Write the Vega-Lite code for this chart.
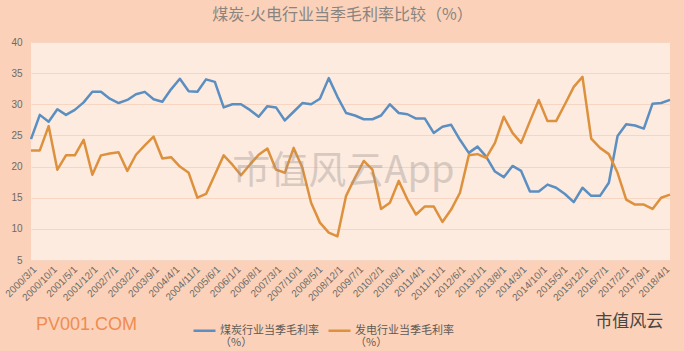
{
  "$schema": "https://vega.github.io/schema/vega-lite/v6.json",
  "autosize": "none",
  "width": 639,
  "height": 218,
  "padding": {"left": 31, "top": 42, "right": 14, "bottom": 91},
  "background": "#FBD2B9",
  "view": {"fill": "#FDEBE0", "stroke": null},
  "title": {"text": "煤炭-火电行业当季毛利率比较（%）", "font": "Noto Sans CJK SC", "fontSize": 16, "fontWeight": "normal", "color": "#8A8480", "anchor": "middle", "offset": 14, "dx": -8},
  "datasets": {
    "series": [
      {"date": "2000/3/1", "煤炭行业当季毛利率": 24.4, "发电行业当季毛利率": 22.6},
      {"date": "2000/6/1", "煤炭行业当季毛利率": 28.3, "发电行业当季毛利率": 22.6},
      {"date": "2000/9/1", "煤炭行业当季毛利率": 27.2, "发电行业当季毛利率": 26.5},
      {"date": "2000/12/1", "煤炭行业当季毛利率": 29.2, "发电行业当季毛利率": 19.5},
      {"date": "2001/3/1", "煤炭行业当季毛利率": 28.3, "发电行业当季毛利率": 21.8},
      {"date": "2001/6/1", "煤炭行业当季毛利率": 29.1, "发电行业当季毛利率": 21.8},
      {"date": "2001/9/1", "煤炭行业当季毛利率": 30.3, "发电行业当季毛利率": 24.3},
      {"date": "2001/12/1", "煤炭行业当季毛利率": 32.0, "发电行业当季毛利率": 18.7},
      {"date": "2002/3/1", "煤炭行业当季毛利率": 32.0, "发电行业当季毛利率": 21.8},
      {"date": "2002/6/1", "煤炭行业当季毛利率": 30.9, "发电行业当季毛利率": 22.1},
      {"date": "2002/9/1", "煤炭行业当季毛利率": 30.2, "发电行业当季毛利率": 22.3},
      {"date": "2002/12/1", "煤炭行业当季毛利率": 30.7, "发电行业当季毛利率": 19.3},
      {"date": "2003/3/1", "煤炭行业当季毛利率": 31.6, "发电行业当季毛利率": 21.9},
      {"date": "2003/6/1", "煤炭行业当季毛利率": 32.0, "发电行业当季毛利率": 23.4},
      {"date": "2003/9/1", "煤炭行业当季毛利率": 30.8, "发电行业当季毛利率": 24.8},
      {"date": "2003/12/1", "煤炭行业当季毛利率": 30.4, "发电行业当季毛利率": 21.3},
      {"date": "2004/3/1", "煤炭行业当季毛利率": 32.4, "发电行业当季毛利率": 21.5},
      {"date": "2004/6/1", "煤炭行业当季毛利率": 34.1, "发电行业当季毛利率": 20.0},
      {"date": "2004/9/1", "煤炭行业当季毛利率": 32.1, "发电行业当季毛利率": 19.0},
      {"date": "2004/12/1", "煤炭行业当季毛利率": 32.0, "发电行业当季毛利率": 15.0},
      {"date": "2005/3/1", "煤炭行业当季毛利率": 34.0, "发电行业当季毛利率": 15.6},
      {"date": "2005/6/1", "煤炭行业当季毛利率": 33.6, "发电行业当季毛利率": 18.7},
      {"date": "2005/9/1", "煤炭行业当季毛利率": 29.5, "发电行业当季毛利率": 21.8},
      {"date": "2005/12/1", "煤炭行业当季毛利率": 30.0, "发电行业当季毛利率": 20.3},
      {"date": "2006/3/1", "煤炭行业当季毛利率": 30.0, "发电行业当季毛利率": 18.6},
      {"date": "2006/6/1", "煤炭行业当季毛利率": 29.1, "发电行业当季毛利率": 20.3},
      {"date": "2006/9/1", "煤炭行业当季毛利率": 28.0, "发电行业当季毛利率": 21.9},
      {"date": "2006/12/1", "煤炭行业当季毛利率": 29.7, "发电行业当季毛利率": 22.9},
      {"date": "2007/3/1", "煤炭行业当季毛利率": 29.5, "发电行业当季毛利率": 19.5},
      {"date": "2007/6/1", "煤炭行业当季毛利率": 27.4, "发电行业当季毛利率": 19.0},
      {"date": "2007/9/1", "煤炭行业当季毛利率": 28.8, "发电行业当季毛利率": 23.0},
      {"date": "2007/12/1", "煤炭行业当季毛利率": 30.2, "发电行业当季毛利率": 19.8},
      {"date": "2008/3/1", "煤炭行业当季毛利率": 30.0, "发电行业当季毛利率": 14.2},
      {"date": "2008/6/1", "煤炭行业当季毛利率": 30.9, "发电行业当季毛利率": 11.0},
      {"date": "2008/9/1", "煤炭行业当季毛利率": 34.2, "发电行业当季毛利率": 9.4},
      {"date": "2008/12/1", "煤炭行业当季毛利率": 31.2, "发电行业当季毛利率": 8.8},
      {"date": "2009/3/1", "煤炭行业当季毛利率": 28.6, "发电行业当季毛利率": 15.3},
      {"date": "2009/6/1", "煤炭行业当季毛利率": 28.2, "发电行业当季毛利率": 18.2},
      {"date": "2009/9/1", "煤炭行业当季毛利率": 27.6, "发电行业当季毛利率": 20.9},
      {"date": "2009/12/1", "煤炭行业当季毛利率": 27.6, "发电行业当季毛利率": 19.5},
      {"date": "2010/3/1", "煤炭行业当季毛利率": 28.2, "发电行业当季毛利率": 13.2},
      {"date": "2010/6/1", "煤炭行业当季毛利率": 30.0, "发电行业当季毛利率": 14.2},
      {"date": "2010/9/1", "煤炭行业当季毛利率": 28.6, "发电行业当季毛利率": 17.7},
      {"date": "2010/12/1", "煤炭行业当季毛利率": 28.4, "发电行业当季毛利率": 14.7},
      {"date": "2011/3/1", "煤炭行业当季毛利率": 27.7, "发电行业当季毛利率": 12.3},
      {"date": "2011/6/1", "煤炭行业当季毛利率": 27.7, "发电行业当季毛利率": 13.6},
      {"date": "2011/9/1", "煤炭行业当季毛利率": 25.4, "发电行业当季毛利率": 13.6},
      {"date": "2011/12/1", "煤炭行业当季毛利率": 26.4, "发电行业当季毛利率": 11.1},
      {"date": "2012/3/1", "煤炭行业当季毛利率": 26.7, "发电行业当季毛利率": 13.1},
      {"date": "2012/6/1", "煤炭行业当季毛利率": 24.3, "发电行业当季毛利率": 15.8},
      {"date": "2012/9/1", "煤炭行业当季毛利率": 22.2, "发电行业当季毛利率": 21.8},
      {"date": "2012/12/1", "煤炭行业当季毛利率": 23.2, "发电行业当季毛利率": 22.0},
      {"date": "2013/3/1", "煤炭行业当季毛利率": 21.6, "发电行业当季毛利率": 21.4},
      {"date": "2013/6/1", "煤炭行业当季毛利率": 19.2, "发电行业当季毛利率": 23.8},
      {"date": "2013/9/1", "煤炭行业当季毛利率": 18.3, "发电行业当季毛利率": 28.0},
      {"date": "2013/12/1", "煤炭行业当季毛利率": 20.1, "发电行业当季毛利率": 25.4},
      {"date": "2014/3/1", "煤炭行业当季毛利率": 19.3, "发电行业当季毛利率": 23.8},
      {"date": "2014/6/1", "煤炭行业当季毛利率": 16.0, "发电行业当季毛利率": 27.3},
      {"date": "2014/9/1", "煤炭行业当季毛利率": 16.0, "发电行业当季毛利率": 30.7},
      {"date": "2014/12/1", "煤炭行业当季毛利率": 17.1, "发电行业当季毛利率": 27.3},
      {"date": "2015/3/1", "煤炭行业当季毛利率": 16.6, "发电行业当季毛利率": 27.3},
      {"date": "2015/6/1", "煤炭行业当季毛利率": 15.6, "发电行业当季毛利率": 30.0},
      {"date": "2015/9/1", "煤炭行业当季毛利率": 14.3, "发电行业当季毛利率": 32.8},
      {"date": "2015/12/1", "煤炭行业当季毛利率": 16.6, "发电行业当季毛利率": 34.4},
      {"date": "2016/3/1", "煤炭行业当季毛利率": 15.3, "发电行业当季毛利率": 24.5},
      {"date": "2016/6/1", "煤炭行业当季毛利率": 15.3, "发电行业当季毛利率": 23.0},
      {"date": "2016/9/1", "煤炭行业当季毛利率": 17.4, "发电行业当季毛利率": 22.0},
      {"date": "2016/12/1", "煤炭行业当季毛利率": 24.9, "发电行业当季毛利率": 19.0},
      {"date": "2017/3/1", "煤炭行业当季毛利率": 26.8, "发电行业当季毛利率": 14.7},
      {"date": "2017/6/1", "煤炭行业当季毛利率": 26.6, "发电行业当季毛利率": 13.9},
      {"date": "2017/9/1", "煤炭行业当季毛利率": 26.1, "发电行业当季毛利率": 13.9},
      {"date": "2017/12/1", "煤炭行业当季毛利率": 30.1, "发电行业当季毛利率": 13.2},
      {"date": "2018/3/1", "煤炭行业当季毛利率": 30.2, "发电行业当季毛利率": 15.0},
      {"date": "2018/6/1", "煤炭行业当季毛利率": 30.7, "发电行业当季毛利率": 15.5}
    ]
  },
  "encoding": {
    "x": {
      "field": "date",
      "type": "temporal",
      "scale": {"domain": [{"year": 2000, "month": 3, "date": 1}, {"year": 2018, "month": 6, "date": 1}]},
      "axis": {
        "title": null,
        "format": "%Y/%-m/%-d",
        "values": [
          {"year": 2000, "month": 3, "date": 1}, {"year": 2000, "month": 10, "date": 1},
          {"year": 2001, "month": 5, "date": 1}, {"year": 2001, "month": 12, "date": 1},
          {"year": 2002, "month": 7, "date": 1}, {"year": 2003, "month": 2, "date": 1},
          {"year": 2003, "month": 9, "date": 1}, {"year": 2004, "month": 4, "date": 1},
          {"year": 2004, "month": 11, "date": 1}, {"year": 2005, "month": 6, "date": 1},
          {"year": 2006, "month": 1, "date": 1}, {"year": 2006, "month": 8, "date": 1},
          {"year": 2007, "month": 3, "date": 1}, {"year": 2007, "month": 10, "date": 1},
          {"year": 2008, "month": 5, "date": 1}, {"year": 2008, "month": 12, "date": 1},
          {"year": 2009, "month": 7, "date": 1}, {"year": 2010, "month": 2, "date": 1},
          {"year": 2010, "month": 9, "date": 1}, {"year": 2011, "month": 4, "date": 1},
          {"year": 2011, "month": 11, "date": 1}, {"year": 2012, "month": 6, "date": 1},
          {"year": 2013, "month": 1, "date": 1}, {"year": 2013, "month": 8, "date": 1},
          {"year": 2014, "month": 3, "date": 1}, {"year": 2014, "month": 10, "date": 1},
          {"year": 2015, "month": 5, "date": 1}, {"year": 2015, "month": 12, "date": 1},
          {"year": 2016, "month": 7, "date": 1}, {"year": 2017, "month": 2, "date": 1},
          {"year": 2017, "month": 9, "date": 1}, {"year": 2018, "month": 4, "date": 1}
        ],
        "labelAngle": -45,
        "labelFont": "Liberation Sans",
        "labelFontSize": 10,
        "labelColor": "#6E6A66",
        "labelOverlap": false,
        "labelPadding": 4,
        "ticks": false,
        "domain": false,
        "grid": false
      }
    },
    "y": {
      "field": "value",
      "type": "quantitative",
      "scale": {"domain": [5, 40], "nice": false, "zero": false},
      "axis": {
        "title": null,
        "values": [5, 10, 15, 20, 25, 30, 35, 40],
        "labelFont": "Liberation Sans",
        "labelFontSize": 10,
        "labelColor": "#6E6A66",
        "labelPadding": 9,
        "ticks": false,
        "domain": false,
        "grid": true,
        "gridColor": "#F6D6C3",
        "gridWidth": 1
      }
    }
  },
  "layer": [
    {
      "data": {"name": "series"},
      "transform": [{"fold": ["煤炭行业当季毛利率", "发电行业当季毛利率"], "as": ["series", "value"]}],
      "mark": {"type": "line", "strokeWidth": 2.5, "strokeJoin": "round"},
      "encoding": {
        "color": {
          "field": "series",
          "type": "nominal",
          "sort": ["煤炭行业当季毛利率", "发电行业当季毛利率"],
          "scale": {"domain": ["煤炭行业当季毛利率", "发电行业当季毛利率"], "range": ["#5B8EC1", "#DD913D"]},
          "legend": {
            "title": null,
            "orient": "none",
            "direction": "horizontal",
            "legendX": 161,
            "legendY": 276,
            "symbolType": "stroke",
            "symbolSize": 484,
            "symbolStrokeWidth": 2.5,
            "labelFont": "Noto Sans CJK SC",
            "labelFontSize": 11,
            "labelColor": "#5E5A56",
            "labelOffset": 3,
            "columnPadding": 4,
            "labelExpr": "[datum.label, '（%）']",
            "encode": {"labels": {"update": {"lineHeight": {"value": 12}}}}
          }
        }
      }
    },
    {
      "data": {"values": [{"label": "市值风云App", "date": "2009/2/1", "value": 19.2}]},
      "mark": {"type": "text", "font": "Noto Sans CJK SC", "fontSize": 38, "color": "#9C948E", "opacity": 0.38},
      "encoding": {"text": {"field": "label"}}
    },
    {
      "data": {"values": [{"label": "PV001.COM", "date": "2001/10/1", "value": -5.4}]},
      "mark": {"type": "text", "font": "Liberation Sans", "fontSize": 18, "color": "#F08C52"},
      "encoding": {"text": {"field": "label"}}
    },
    {
      "data": {"values": [{"label": "市值风云", "date": "2017/4/1", "value": -5.0}]},
      "mark": {"type": "text", "font": "Noto Sans CJK SC", "fontSize": 17, "color": "#4A4642"},
      "encoding": {"text": {"field": "label"}}
    }
  ]
}
